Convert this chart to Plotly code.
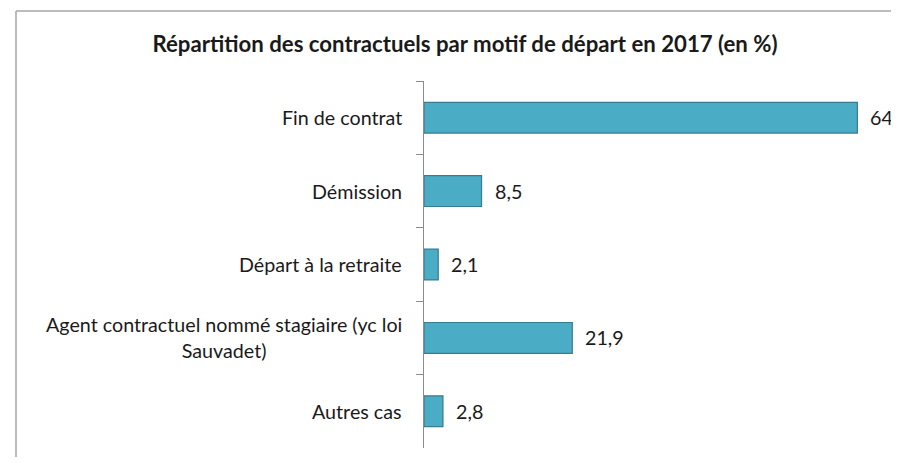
import plotly.graph_objects as go

categories = [
    "Fin de contrat",
    "Démission",
    "Départ à la retraite",
    "Agent contractuel nommé stagiaire (yc loi<br>Sauvadet)",
    "Autres cas",
]
values = [64.0, 8.5, 2.1, 21.9, 2.8]
value_labels = [f"{v:.1f}".replace(".", ",") for v in values]

FONT = "Lato"
# page has an 8px body margin; figure coordinates are page coordinates minus 8
W, H = 883, 449
L, R, T, B = 416, 0, 73, 9
pw = W - L - R
ph = H - T - B
XMAX = 70 * pw / 474  # keep 6.77 px per unit

fig = go.Figure()
fig.add_trace(go.Bar(
    x=values, y=categories, orientation="h",
    marker=dict(color="#4BACC6", line=dict(color="#357D91", width=1.2)),
    hoverinfo="skip",
))

annotations = []
for c, v, t in zip(categories, values, value_labels):
    annotations.append(dict(
        x=v, y=c, xref="x", yref="y", text=t, showarrow=False,
        xanchor="left", yanchor="middle", xshift=11,
        font=dict(family=FONT, size=19.7, color="#1a1a1a"),
    ))
    annotations.append(dict(
        x=0, y=c, xref="x", yref="y", text=c, showarrow=False,
        xanchor="right", yanchor="middle", xshift=-20, align="center",
        font=dict(family=FONT, size=19.7, color="#1a1a1a"),
    ))

fx0 = (8 - L) / pw
fy1 = (H - B - 3) / ph
frame_style = dict(color="#A6A6A6", width=1.5)

fig.update_layout(
    width=W, height=H,
    margin=dict(l=L, r=R, t=T, b=B, pad=0),
    paper_bgcolor="white", plot_bgcolor="white",
    showlegend=False,
    bargap=0.58,
    title=dict(
        text="<b>Répartition des contractuels par motif de départ en 2017 (en %)</b>",
        x=457 / W, xref="container", xanchor="center",
        y=1 - 36 / H, yref="container", yanchor="middle",
        font=dict(family=FONT, size=22.2, color="#1a1a1a"),
    ),
    xaxis=dict(range=[0, XMAX], visible=False, fixedrange=True),
    yaxis=dict(
        type="category", autorange="reversed",
        showticklabels=False, showgrid=False,
        showline=True, linecolor="#8C8C8C", linewidth=1.3,
        ticks="outside", tickson="boundaries", ticklen=7,
        tickcolor="#8C8C8C", tickwidth=1.3, zeroline=False,
    ),
    annotations=annotations,
    shapes=[
        dict(type="line", xref="paper", yref="paper",
             x0=fx0, x1=1.05, y0=fy1, y1=fy1, line=frame_style, layer="below"),
        dict(type="line", xref="paper", yref="paper",
             x0=fx0, x1=fx0, y0=-0.1, y1=fy1, line=frame_style, layer="below"),
    ],
)

fig.write_html("out.html")
